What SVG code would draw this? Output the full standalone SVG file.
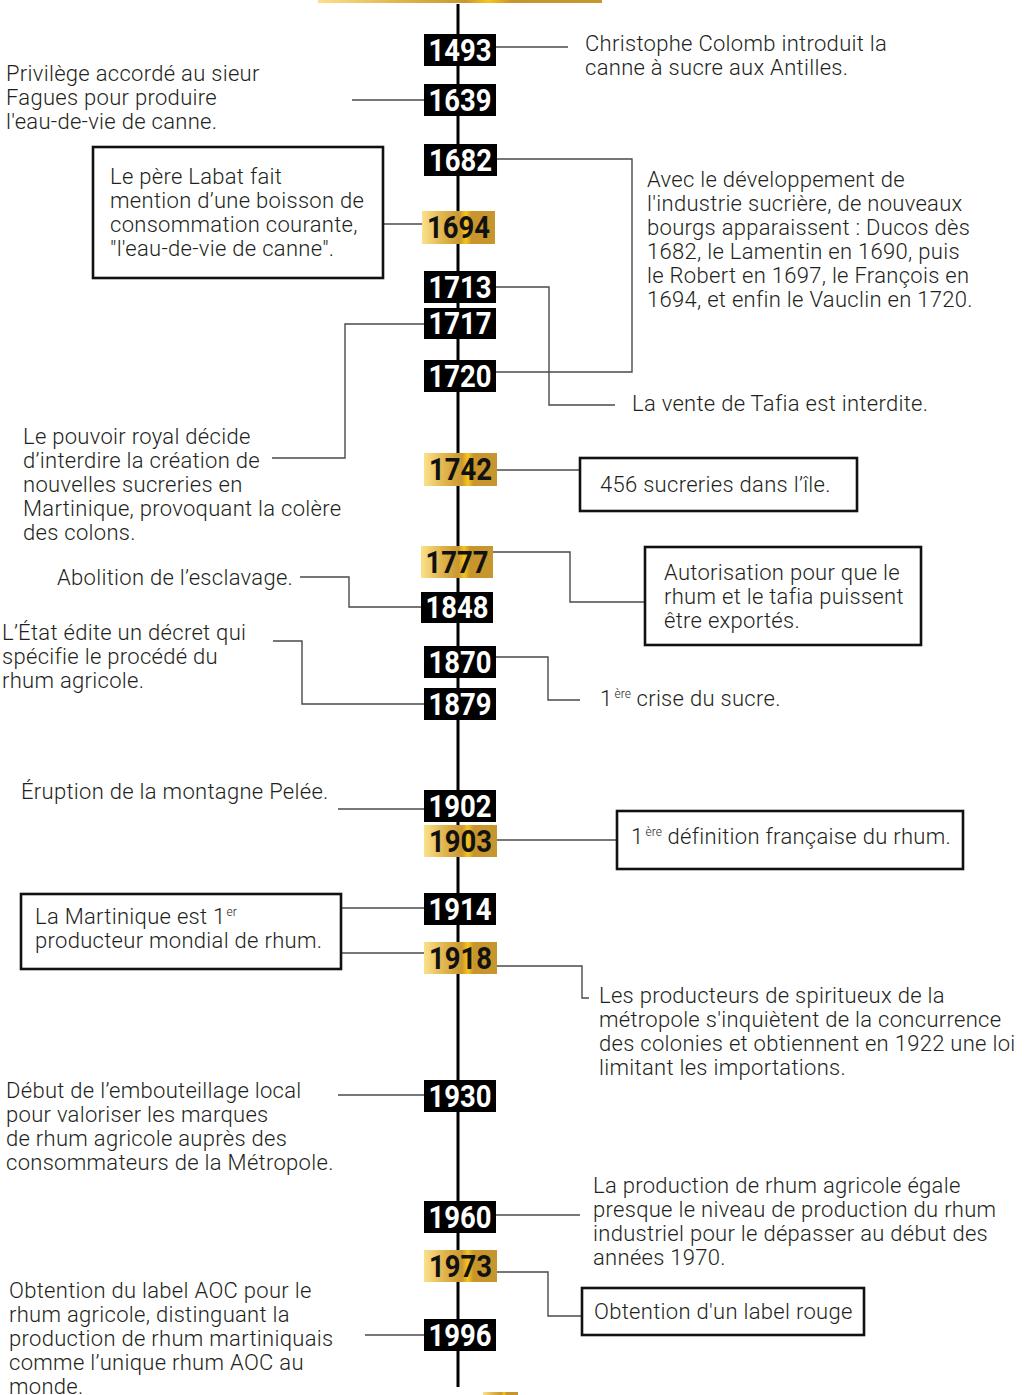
<svg xmlns="http://www.w3.org/2000/svg" width="1027" height="1395" viewBox="0 0 1027 1395">
<defs>
<linearGradient id="gold" x1="0" y1="0" x2="1" y2="0">
<stop offset="0" stop-color="#fbe18c"/>
<stop offset="0.3" stop-color="#dfb24a"/>
<stop offset="0.52" stop-color="#c99830"/>
<stop offset="0.6" stop-color="#f5c61c"/>
<stop offset="0.68" stop-color="#c8952c"/>
<stop offset="1" stop-color="#c6962f"/>
</linearGradient>
<style>
.t{font-family:Roboto,"Liberation Sans",sans-serif;font-weight:300;font-size:22px;letter-spacing:0.3px;fill:#231f20}
.sup{font-size:12px;letter-spacing:0}
.yr{font-family:Roboto,"DejaVu Sans",sans-serif;font-weight:700;font-size:31px;fill:#ffffff;text-anchor:middle}
.yg{fill:#111111}
.bk{fill:#000000}
.gd{fill:url(#gold)}
.c{fill:none;stroke:#4a4a4a;stroke-width:1.4}
.box{fill:#ffffff;stroke:#111111;stroke-width:2.6}
.axis{stroke:#000000;stroke-width:3}
</style>
</defs>
<rect width="1027" height="1395" fill="#ffffff"/>
<rect x="318" y="0" width="284" height="3" class="gd"/>
<rect x="483" y="1392" width="35" height="3" class="gd"/>
<line class="axis" x1="458" y1="4" x2="458" y2="1387"/>

<g id="connectors">
<path class="c" d="M496 47H568"/>
<path class="c" d="M352 100H424"/>
<path class="c" d="M383 224H422"/>
<path class="c" d="M497 159H632V372H496"/>
<path class="c" d="M496 287H549V405H615"/>
<path class="c" d="M424 324H345V458H272"/>
<path class="c" d="M497 470H580"/>
<path class="c" d="M493 552H570V602H645"/>
<path class="c" d="M421 607H349V577H300"/>
<path class="c" d="M496 657H548V700H580"/>
<path class="c" d="M424 704H302V641H273"/>
<path class="c" d="M424 809H338"/>
<path class="c" d="M497 840H617"/>
<path class="c" d="M424 908H341"/>
<path class="c" d="M341 953H424"/>
<path class="c" d="M497 966H582V998H589"/>
<path class="c" d="M338 1095H424"/>
<path class="c" d="M496 1215H580"/>
<path class="c" d="M497 1272H548V1316H582"/>
<path class="c" d="M365 1335H424"/>
</g>

<g id="y1493"><rect class="bk" x="424" y="34" width="72" height="32"/><text class="yr" x="460" y="60.5" textLength="63" lengthAdjust="spacingAndGlyphs">1493</text></g>
<g id="y1639"><rect class="bk" x="424" y="84" width="72" height="32"/><text class="yr" x="460" y="110.5" textLength="63" lengthAdjust="spacingAndGlyphs">1639</text></g>
<g id="y1682"><rect class="bk" x="424" y="144" width="73" height="32"/><text class="yr" x="460.5" y="170.5" textLength="63" lengthAdjust="spacingAndGlyphs">1682</text></g>
<g id="y1694"><rect class="gd" x="422" y="211" width="73" height="33"/><text class="yr yg" x="458.5" y="238" textLength="63" lengthAdjust="spacingAndGlyphs">1694</text></g>
<g id="y1713"><rect class="bk" x="424" y="271" width="72" height="32"/><text class="yr" x="460" y="297.5" textLength="63" lengthAdjust="spacingAndGlyphs">1713</text></g>
<g id="y1717"><rect class="bk" x="424" y="308" width="72" height="31"/><text class="yr" x="460" y="334" textLength="63" lengthAdjust="spacingAndGlyphs">1717</text></g>
<g id="y1720"><rect class="bk" x="424" y="360" width="72" height="32"/><text class="yr" x="460" y="386.5" textLength="63" lengthAdjust="spacingAndGlyphs">1720</text></g>
<g id="y1742"><rect class="gd" x="424" y="453" width="73" height="33"/><text class="yr yg" x="460.5" y="480" textLength="63" lengthAdjust="spacingAndGlyphs">1742</text></g>
<g id="y1777"><rect class="gd" x="421" y="546" width="72" height="32"/><text class="yr yg" x="457" y="572.5" textLength="63" lengthAdjust="spacingAndGlyphs">1777</text></g>
<g id="y1848"><rect class="bk" x="421" y="592" width="72" height="31"/><text class="yr" x="457" y="618" textLength="63" lengthAdjust="spacingAndGlyphs">1848</text></g>
<g id="y1870"><rect class="bk" x="424" y="646" width="72" height="32"/><text class="yr" x="460" y="672.5" textLength="63" lengthAdjust="spacingAndGlyphs">1870</text></g>
<g id="y1879"><rect class="bk" x="424" y="688" width="72" height="32"/><text class="yr" x="460" y="714.5" textLength="63" lengthAdjust="spacingAndGlyphs">1879</text></g>
<g id="y1902"><rect class="bk" x="424" y="790" width="72" height="32"/><text class="yr" x="460" y="816.5" textLength="63" lengthAdjust="spacingAndGlyphs">1902</text></g>
<g id="y1903"><rect class="gd" x="424" y="825" width="73" height="32"/><text class="yr yg" x="460.5" y="851.5" textLength="63" lengthAdjust="spacingAndGlyphs">1903</text></g>
<g id="y1914"><rect class="bk" x="424" y="893" width="72" height="32"/><text class="yr" x="460" y="919.5" textLength="63" lengthAdjust="spacingAndGlyphs">1914</text></g>
<g id="y1918"><rect class="gd" x="424" y="942" width="73" height="32"/><text class="yr yg" x="460.5" y="968.5" textLength="63" lengthAdjust="spacingAndGlyphs">1918</text></g>
<g id="y1930"><rect class="bk" x="424" y="1080" width="72" height="32"/><text class="yr" x="460" y="1106.5" textLength="63" lengthAdjust="spacingAndGlyphs">1930</text></g>
<g id="y1960"><rect class="bk" x="424" y="1201" width="72" height="32"/><text class="yr" x="460" y="1227.5" textLength="63" lengthAdjust="spacingAndGlyphs">1960</text></g>
<g id="y1973"><rect class="gd" x="424" y="1250" width="73" height="32"/><text class="yr yg" x="460.5" y="1276.5" textLength="63" lengthAdjust="spacingAndGlyphs">1973</text></g>
<g id="y1996"><rect class="bk" x="424" y="1319" width="72" height="32"/><text class="yr" x="460" y="1345.5" textLength="63" lengthAdjust="spacingAndGlyphs">1996</text></g>

<g id="e1493"><text class="t" x="585"><tspan x="585" y="51">Christophe Colomb introduit la</tspan><tspan x="585" y="75">canne à sucre aux Antilles.</tspan></text></g>
<g id="e1639"><text class="t"><tspan x="6" y="81">Privilège accordé au sieur</tspan><tspan x="6" y="105">Fagues pour produire</tspan><tspan x="6" y="129">l'eau-de-vie de canne.</tspan></text></g>
<g id="e1694"><rect class="box" x="93" y="147" width="290" height="131"/><text class="t"><tspan x="110" y="184">Le père Labat fait</tspan><tspan x="110" y="208">mention d’une boisson de</tspan><tspan x="110" y="232">consommation courante,</tspan><tspan x="110" y="256">"l'eau-de-vie de canne".</tspan></text></g>
<g id="e1682"><text class="t"><tspan x="647" y="187">Avec le développement de</tspan><tspan x="647" y="211">l'industrie sucrière, de nouveaux</tspan><tspan x="647" y="235">bourgs apparaissent : Ducos dès</tspan><tspan x="647" y="259">1682, le Lamentin en 1690, puis</tspan><tspan x="647" y="283">le Robert en 1697, le François en</tspan><tspan x="647" y="307">1694, et enfin le Vauclin en 1720.</tspan></text></g>
<g id="e1713"><text class="t" x="632" y="411">La vente de Tafia est interdite.</text></g>
<g id="e1717"><text class="t"><tspan x="23" y="444">Le pouvoir royal décide</tspan><tspan x="23" y="468">d’interdire la création de</tspan><tspan x="23" y="492">nouvelles sucreries en</tspan><tspan x="23" y="516">Martinique, provoquant la colère</tspan><tspan x="23" y="540">des colons.</tspan></text></g>
<g id="e1742"><rect class="box" x="580" y="458" width="277" height="53"/><text class="t" x="600" y="492">456 sucreries dans l’île.</text></g>
<g id="e1777"><rect class="box" x="645" y="547" width="276" height="98"/><text class="t"><tspan x="664" y="580">Autorisation pour que le</tspan><tspan x="664" y="604">rhum et le tafia puissent</tspan><tspan x="664" y="628">être exportés.</tspan></text></g>
<g id="e1848"><text class="t" x="57" y="585">Abolition de l’esclavage.</text></g>
<g id="e1870"><text class="t" x="600" y="706">1<tspan class="sup" dx="2" dy="-8">ère</tspan><tspan dy="8"> crise du sucre.</tspan></text></g>
<g id="e1879"><text class="t"><tspan x="2" y="640">L’État édite un décret qui</tspan><tspan x="2" y="664">spécifie le procédé du</tspan><tspan x="2" y="688">rhum agricole.</tspan></text></g>
<g id="e1902"><text class="t" x="21" y="799">Éruption de la montagne Pelée.</text></g>
<g id="e1903"><rect class="box" x="617" y="811" width="346" height="58"/><text class="t" x="631" y="844">1<tspan class="sup" dx="2" dy="-8">ère</tspan><tspan dy="8"> définition française du rhum.</tspan></text></g>
<g id="e1914"><rect class="box" x="21" y="894" width="320" height="75"/><text class="t"><tspan x="35" y="924">La Martinique est 1</tspan><tspan class="sup" dx="1" dy="-8">er</tspan><tspan x="35" y="948">producteur mondial de rhum.</tspan></text></g>
<g id="e1918"><text class="t"><tspan x="599" y="1003">Les producteurs de spiritueux de la</tspan><tspan x="599" y="1027">métropole s'inquiètent de la concurrence</tspan><tspan x="599" y="1051">des colonies et obtiennent en 1922 une loi</tspan><tspan x="599" y="1075">limitant les importations.</tspan></text></g>
<g id="e1930"><text class="t"><tspan x="6" y="1098">Début de l’embouteillage local</tspan><tspan x="6" y="1122">pour valoriser les marques</tspan><tspan x="6" y="1146">de rhum agricole auprès des</tspan><tspan x="6" y="1170">consommateurs de la Métropole.</tspan></text></g>
<g id="e1960"><text class="t"><tspan x="593" y="1193">La production de rhum agricole égale</tspan><tspan x="593" y="1217">presque le niveau de production du rhum</tspan><tspan x="593" y="1241">industriel pour le dépasser au début des</tspan><tspan x="593" y="1265">années 1970.</tspan></text></g>
<g id="e1973"><rect class="box" x="582" y="1288" width="282" height="47"/><text class="t" x="594" y="1319">Obtention d'un label rouge</text></g>
<g id="e1996"><text class="t"><tspan x="9" y="1298">Obtention du label AOC pour le</tspan><tspan x="9" y="1322">rhum agricole, distinguant la</tspan><tspan x="9" y="1346">production de rhum martiniquais</tspan><tspan x="9" y="1370">comme l’unique rhum AOC au</tspan><tspan x="9" y="1394">monde.</tspan></text></g>
</svg>
